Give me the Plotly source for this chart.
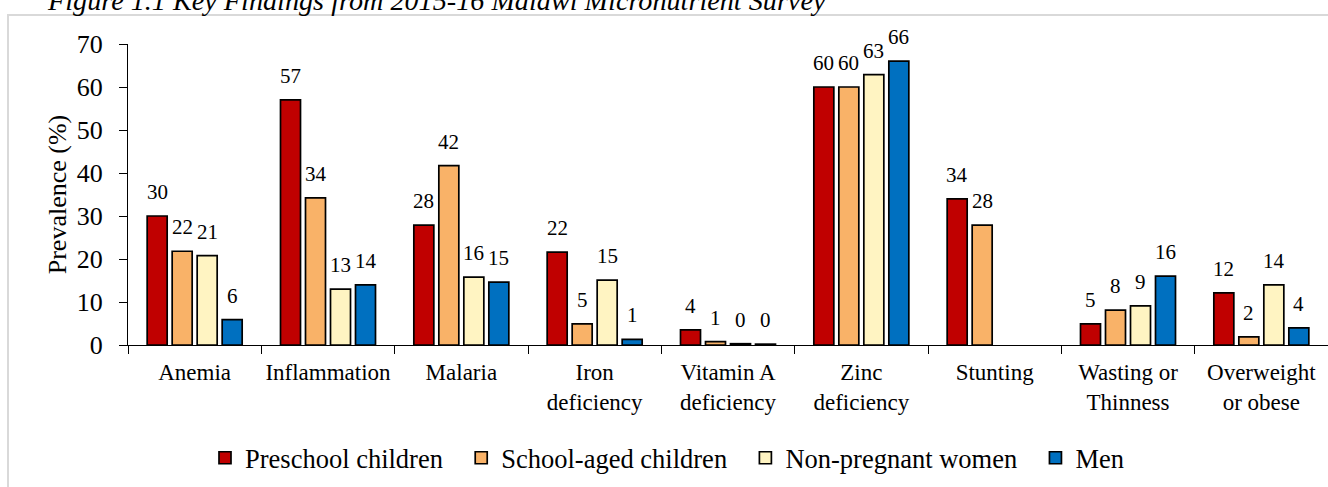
import plotly.graph_objects as go

categories = ["Anemia", "Inflammation", "Malaria", "Iron<br>deficiency", "Vitamin A<br>deficiency",
              "Zinc<br>deficiency", "Stunting", "Wasting or<br>Thinness", "Overweight<br>or obese"]
series_names = ["Preschool children", "School-aged children", "Non-pregnant women", "Men"]
preschool = [30, 57, 27.9, 21.6, 3.5, 60, 34, 4.9, 12.1]
school_aged = [21.8, 34.2, 41.7, 4.9, 0.8, 60, 27.9, 8.1, 1.9]
women = [20.8, 13.0, 15.8, 15.1, 0.3, 62.9, None, 9.1, 14.0]
men = [5.9, 14.0, 14.6, 1.3, 0.2, 66, None, 16.0, 4.0]
preschool_labels = ["30", "57", "28", "22", "4", "60", "34", "5", "12"]
school_labels = ["22", "34", "42", "5", "1", "60", "28", "8", "2"]
women_labels = ["21", "13", "16", "15", "0", "63", "", "9", "14"]
men_labels = ["6", "14", "15", "1", "0", "66", "", "16", "4"]
y_ticks = [0, 10, 20, 30, 40, 50, 60, 70]

colors = ["#C00000", "#F9B268", "#FFF4C2", "#0070C0"]
values = [preschool, school_aged, women, men]
labels = [preschool_labels, school_labels, women_labels, men_labels]

FONT = "Liberation Serif"
W, H = 1328, 487
ML, MR, MT, MB = 128, 0, 44, 142
BARGAP = 0.25
plot_w = W - ML - MR
plot_h = H - MT - MB
slot = plot_w / len(categories) * (1 - BARGAP) / len(series_names)

fig = go.Figure()
for i, (name, vals, col) in enumerate(zip(series_names, values, colors)):
    fig.add_trace(go.Bar(
        x=categories, y=vals, name=name + "\u00a0\u00a0",
        marker=dict(color=col, line=dict(color="black", width=1.7)),
    ))

annotations = []
for i, (vals, labs) in enumerate(zip(values, labels)):
    for cat, v, lab in zip(categories, vals, labs):
        if v is None:
            continue
        annotations.append(dict(
            x=cat, y=v, xref="x", yref="y", text=lab, showarrow=False,
            xanchor="center", yanchor="bottom",
            xshift=(i - (len(series_names) - 1) / 2) * slot, yshift=10,
            font=dict(family=FONT, size=21, color="black"),
        ))

annotations.append(dict(
    x=(45 - ML) / plot_w, y=(H - MB - 18) / plot_h, xref="paper", yref="paper",
    text="<i>Figure 1.1 Key Findings from 2015-16 Malawi Micronutrient Survey</i>",
    showarrow=False, xanchor="left", yanchor="bottom",
    font=dict(family=FONT, size=28.2, color="black"),
))

fig.update_layout(
    width=W, height=H,
    margin=dict(l=ML, r=MR, t=MT, b=MB, autoexpand=False),
    paper_bgcolor="white", plot_bgcolor="white",
    barmode="group", bargap=BARGAP, bargroupgap=0.2,
    font=dict(family=FONT, color="black"),
    showlegend=True,
    legend=dict(orientation="h", x=(674 - ML) / plot_w, xanchor="center",
                y=(H - MB - 458) / plot_h, yanchor="middle",
                font=dict(family=FONT, size=26.5, color="black"),
                traceorder="normal", itemwidth=30),
    annotations=annotations,
    shapes=[dict(type="rect", xref="paper", yref="paper",
                 x0=(8 - ML) / plot_w, x1=1.05,
                 y0=-1.0, y1=(H - MB - 15) / plot_h,
                 line=dict(color="#D9D9D9", width=2), layer="below")],
)
fig.update_xaxes(
    showline=True, linecolor="black", linewidth=1.2,
    ticks="outside", tickson="boundaries", ticklen=8, tickcolor="black", tickwidth=1.2,
    ticklabelstandoff=6, tickangle=0, automargin=False,
    tickfont=dict(family=FONT, size=23, color="black"), showgrid=False,
)
fig.update_yaxes(
    range=[0, 70], tickvals=y_ticks, showline=True, linecolor="black", linewidth=1.2,
    ticks="outside", ticklen=8, tickcolor="black", tickwidth=1.2,
    ticklabelstandoff=11, automargin=False,
    tickfont=dict(family=FONT, size=26, color="black"), showgrid=False, zeroline=False,
    title=dict(text="Prevalence (%)", font=dict(family=FONT, size=26, color="black"), standoff=2),
)

fig.write_html("out.html", config={"displayModeBar": False},
               post_script="document.body.style.margin='0';document.body.style.padding='0';")
